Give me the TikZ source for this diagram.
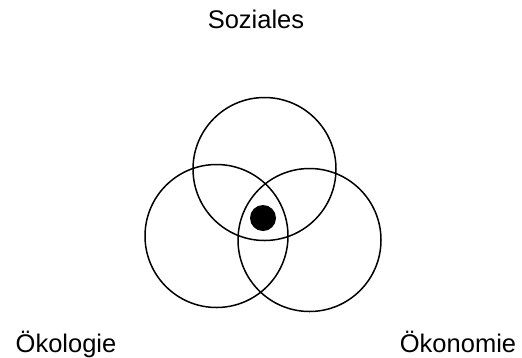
\documentclass[tikz,border=0pt]{standalone}
\usepackage{fontspec}
\setmainfont{Liberation Sans}
\usetikzlibrary{positioning}
\definecolor{cInk}{HTML}{000000}
\tikzset{
  ring/.style={circle, draw=cInk, line width=1.5pt, minimum size=143pt, inner sep=0pt},
  kern/.style={circle, fill=cInk, draw=none, minimum size=26pt, inner sep=0pt},
  lbl/.style={anchor=base, font=\fontsize{25.5}{30}\selectfont, inner sep=0pt, text=cInk},
}
\begin{document}
\begin{tikzpicture}[x=1pt, y=-1pt]
\useasboundingbox (0,0) rectangle (522,357);
% three pillars
\node[ring] (sozial) at (264.5,169){};
\node[ring] (oekologie) at (216.5,236){};
\node[ring] (oekonomie) at (309.5,240){};
\node[kern] (mitte) at (263,218){};
% labels
\node[lbl] (lSozial) at (256,28){Soziales};
\node[lbl] (lOekologie) at (66,352){Ökologie};
\node[lbl] (lOekonomie) at (458,352){Ökonomie};
\end{tikzpicture}
\end{document}
